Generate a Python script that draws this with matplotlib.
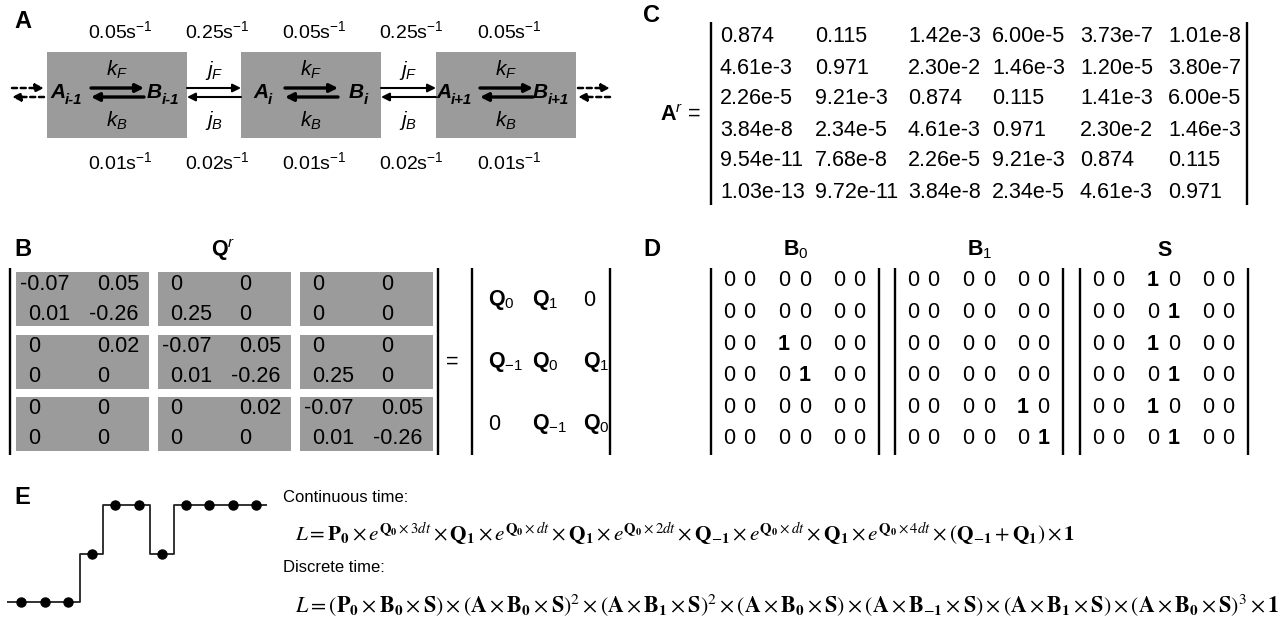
import numpy as np
import matplotlib.pyplot as plt
from matplotlib.patches import Rectangle, FancyArrowPatch

plt.rcParams['font.family'] = ['Liberation Sans', 'DejaVu Sans']
plt.rcParams['mathtext.fontset'] = 'custom'
plt.rcParams['mathtext.rm'] = 'Liberation Sans'
plt.rcParams['mathtext.it'] = 'Liberation Sans:italic'
plt.rcParams['mathtext.bf'] = 'Liberation Sans:bold'

W, H = 1287, 625
GRAY = '#9b9b9b'

# ---- data ----
# panel A: rate constants (s^-1), boxes then gaps alternating
top_rates = ['0.05', '0.25', '0.05', '0.25', '0.05']
bottom_rates = ['0.01', '0.02', '0.01', '0.02', '0.01']
a_subs = ['i-1', 'i', 'i+1']

# panel B: rate matrix Q^r
Q_r = [['-0.07', '0.05', '0', '0', '0', '0'],
       ['0.01', '-0.26', '0.25', '0', '0', '0'],
       ['0', '0.02', '-0.07', '0.05', '0', '0'],
       ['0', '0', '0.01', '-0.26', '0.25', '0'],
       ['0', '0', '0', '0.02', '-0.07', '0.05'],
       ['0', '0', '0', '0', '0.01', '-0.26']]
Q_blocks = [[r'$\mathbf{Q}_0$', r'$\mathbf{Q}_1$', '0'],
            [r'$\mathbf{Q}_{-1}$', r'$\mathbf{Q}_0$', r'$\mathbf{Q}_1$'],
            ['0', r'$\mathbf{Q}_{-1}$', r'$\mathbf{Q}_0$']]

# panel C: transition matrix A^r
A_r = [['0.874', '0.115', '1.42e-3', '6.00e-5', '3.73e-7', '1.01e-8'],
       ['4.61e-3', '0.971', '2.30e-2', '1.46e-3', '1.20e-5', '3.80e-7'],
       ['2.26e-5', '9.21e-3', '0.874', '0.115', '1.41e-3', '6.00e-5'],
       ['3.84e-8', '2.34e-5', '4.61e-3', '0.971', '2.30e-2', '1.46e-3'],
       ['9.54e-11', '7.68e-8', '2.26e-5', '9.21e-3', '0.874', '0.115'],
       ['1.03e-13', '9.72e-11', '3.84e-8', '2.34e-5', '4.61e-3', '0.971']]

# panel D: emission matrices
B0 = [[0, 0, 0, 0, 0, 0],
      [0, 0, 0, 0, 0, 0],
      [0, 0, 1, 0, 0, 0],
      [0, 0, 0, 1, 0, 0],
      [0, 0, 0, 0, 0, 0],
      [0, 0, 0, 0, 0, 0]]
B1 = [[0, 0, 0, 0, 0, 0],
      [0, 0, 0, 0, 0, 0],
      [0, 0, 0, 0, 0, 0],
      [0, 0, 0, 0, 0, 0],
      [0, 0, 0, 0, 1, 0],
      [0, 0, 0, 0, 0, 1]]
S = [[0, 0, 1, 0, 0, 0],
     [0, 0, 0, 1, 0, 0],
     [0, 0, 1, 0, 0, 0],
     [0, 0, 0, 1, 0, 0],
     [0, 0, 1, 0, 0, 0],
     [0, 0, 0, 1, 0, 0]]
D_names = [r'$\mathbf{B}_0$', r'$\mathbf{B}_1$', r'$\mathbf{S}$']

# panel E: position trajectory (step level per time point)
levels = [0, 0, 0, 1, 2, 2, 1, 2, 2, 2, 2]

fig = plt.figure(figsize=(W / 100, H / 100), dpi=100)
ax = fig.add_axes([0, 0, 1, 1])
ax.set_xlim(0, W)
ax.set_ylim(H, 0)
ax.axis('off')

FS = 15.5   # matrices
FA = 14     # scheme in panel A


def label(x, y, s):
    ax.text(x, y, s, fontsize=17, fontweight='bold', ha='left', va='center')


def bracket(x, y0, y1, lw=1.7):
    ax.plot([x, x], [y0, y1], color='black', lw=lw, solid_capstyle='butt')


def arrow(x0, x1, y, lw, ls='-', ms=12):
    ax.add_patch(FancyArrowPatch((x0, y), (x1, y), arrowstyle='-|>',
                                 mutation_scale=ms, lw=lw, color='black',
                                 linestyle=ls, shrinkA=0, shrinkB=0))


def sub_label(x, y, main, sub, fs, **kw):
    t = ax.text(x, y, main, fontsize=fs, ha='left', va='center', **kw)
    ax.annotate(sub, xy=(1, 0.12), xycoords=t, fontsize=fs * 0.72,
                ha='left', va='center', **kw)


# ---------------- A ----------------
label(14, 22, 'A')
box_x = [47, 241, 436]
box_w = 140
gap_c = [bx + box_w + (box_x[i + 1] - bx - box_w) / 2 for i, bx in enumerate(box_x[:-1])]
centers = [box_x[0] + 70, gap_c[0], box_x[1] + 70, gap_c[1], box_x[2] + 70]
for c, tr, br in zip(centers, top_rates, bottom_rates):
    ax.text(c + 3, 31, tr + r's$^{-1}$', fontsize=FA, ha='center', va='center')
    ax.text(c + 3, 162, br + r's$^{-1}$', fontsize=FA, ha='center', va='center')

a_left = [[50, 147], [253, 349], [436, 533]]
for bx, sub, (la, lb) in zip(box_x, a_subs, a_left):
    ax.add_patch(Rectangle((bx, 52), box_w, 86, color=GRAY, lw=0))
    ax.text(bx + 70, 70, r'$k_F$', fontsize=FA + 1, ha='center', va='center')
    ax.text(bx + 70, 121, r'$k_B$', fontsize=FA + 1, ha='center', va='center')
    arrow(bx + 44, bx + 97, 88, 2.4)
    arrow(bx + 97, bx + 44, 97, 2.4)
    sub_label(la, 93, 'A', sub, FA + 1, fontweight='bold', fontstyle='italic')
    sub_label(lb, 93, 'B', sub, FA + 1, fontweight='bold', fontstyle='italic')

for gc, (b0, b1) in zip(gap_c, zip(box_x[:-1], box_x[1:])):
    ax.text(gc, 70, r'$j_F$', fontsize=FA + 1, ha='center', va='center')
    ax.text(gc, 121, r'$j_B$', fontsize=FA + 1, ha='center', va='center')
    arrow(b0 + box_w, b1, 88, 1.5)
    arrow(b1, b0 + box_w, 97, 1.5)

for x0, x1 in [(12, 44), (578, 610)]:
    arrow(x0, x1, 88, 1.8, ls=(0, (2, 1.5)))
    arrow(x1, x0, 97, 1.8, ls=(0, (2, 1.5)))

# ---------------- B ----------------
label(14, 249, 'B')
ax.text(223, 250, r'$\mathbf{Q}^{r}$', fontsize=FS, ha='center', va='center')
blk_x = [16, 158, 300]
blk_y = [272, 335, 397]
for r in range(3):
    for c in range(3):
        ax.add_patch(Rectangle((blk_x[c], blk_y[r]), 133, 54, color=GRAY, lw=0))
for i, row in enumerate(Q_r):
    y = blk_y[i // 2] + 12 + 30 * (i % 2)
    for j, v in enumerate(row):
        x = blk_x[j // 2] + 12 + 69 * (j % 2)
        if v.startswith('-'):
            x -= 8
        ax.text(x, y, v, fontsize=FS, ha='left', va='center')
bracket(10, 268, 455)
bracket(438, 268, 455)
ax.text(452, 362, '=', fontsize=FS, ha='center', va='center')
bracket(472, 268, 455)
bracket(610, 268, 455)
qb_x = [488, 532, 583]
qb_y = [300, 362, 424]
for i, row in enumerate(Q_blocks):
    for j, v in enumerate(row):
        ax.text(qb_x[j], qb_y[i], v, fontsize=FS, ha='left', va='center')

# ---------------- C ----------------
label(643, 15, 'C')
ax.text(660, 115, r'$\mathbf{A}^{r}$ =', fontsize=FS, ha='left', va='center')
bracket(711, 22, 205)
bracket(1247, 22, 205)
c_x = [720, 815, 908, 992, 1080, 1168]
c_y = [37, 68, 99, 130, 161, 192]
for i, row in enumerate(A_r):
    for j, v in enumerate(row):
        ax.text(c_x[j], c_y[i], v, fontsize=FS, ha='left', va='center')

# ---------------- D ----------------
label(643, 249, 'D')
d_left = [711, 895, 1080]
d_off = [18, 38.5, 73, 94, 128, 148.5]
for name, mat, xl in zip(D_names, [B0, B1, S], d_left):
    ax.text(xl + 85, 250, name, fontsize=FS, ha='center', va='center')
    bracket(xl, 268, 455)
    bracket(xl + 168, 268, 455)
    for i, row in enumerate(mat):
        for j, v in enumerate(row):
            ax.text(xl + d_off[j], 281 + 31.6 * i, str(v), fontsize=FS,
                    ha='center', va='center',
                    fontweight='bold' if v == 1 else 'normal')

# ---------------- E ----------------
label(14, 497, 'E')
ax.text(283, 497, 'Continuous time:', fontsize=12, ha='left', va='center')
ax.text(283, 568, 'Discrete time:', fontsize=12, ha='left', va='center')

f1 = (r'$L=\mathbf{P}_\mathbf{0}\times e^{\mathbf{Q}_\mathbf{0}\times 3dt}\times\mathbf{Q}_\mathbf{1}'
      r'\times e^{\mathbf{Q}_\mathbf{0}\times dt}\times\mathbf{Q}_\mathbf{1}\times e^{\mathbf{Q}_\mathbf{0}\times 2dt}'
      r'\times\mathbf{Q}_{-\mathbf{1}}\times e^{\mathbf{Q}_\mathbf{0}\times dt}\times\mathbf{Q}_\mathbf{1}'
      r'\times e^{\mathbf{Q}_\mathbf{0}\times 4dt}\times(\mathbf{Q}_{-\mathbf{1}}+\mathbf{Q}_\mathbf{1})\times\mathbf{1}$')
f2 = (r'$L=(\mathbf{P}_\mathbf{0}\times\mathbf{B}_\mathbf{0}\times\mathbf{S})\times(\mathbf{A}\times\mathbf{B}_\mathbf{0}\times\mathbf{S})^2'
      r'\times(\mathbf{A}\times\mathbf{B}_\mathbf{1}\times\mathbf{S})^2\times(\mathbf{A}\times\mathbf{B}_\mathbf{0}\times\mathbf{S})'
      r'\times(\mathbf{A}\times\mathbf{B}_{-\mathbf{1}}\times\mathbf{S})\times(\mathbf{A}\times\mathbf{B}_\mathbf{1}\times\mathbf{S})'
      r'\times(\mathbf{A}\times\mathbf{B}_\mathbf{0}\times\mathbf{S})^3\times\mathbf{1}$')
renderer = fig.canvas.get_renderer()
for s, y, target in [(f1, 540, 785), (f2, 612, 990)]:
    t = ax.text(295, y, s, fontsize=14, ha='left', va='baseline', math_fontfamily='stix')
    w = t.get_window_extent(renderer).width
    t.set_fontsize(14 * target / w)

# step trajectory
idx = np.arange(len(levels))
sp, lv = 23.5, 48.5
x0px, y0px = 21, 602
xlo, xhi, ylo, yhi = -0.6, 10.45, -0.25, 2.25
left = x0px + xlo * sp
bottom = y0px - ylo * lv
axe = fig.add_axes([left / W, 1 - bottom / H, (xhi - xlo) * sp / W, (yhi - ylo) * lv / H])
axe.set_xlim(xlo, xhi)
axe.set_ylim(ylo, yhi)
axe.axis('off')
xs = np.concatenate([[idx[0] - 1], idx, [idx[-1] + 1]])
ys = np.concatenate([[levels[0]], levels, [levels[-1]]])
axe.step(xs, ys, where='mid', color='#222222', lw=1.3)
axe.plot(idx, levels, 'o', color='black', ms=6.5)

fig.savefig('out.png', dpi=100)
